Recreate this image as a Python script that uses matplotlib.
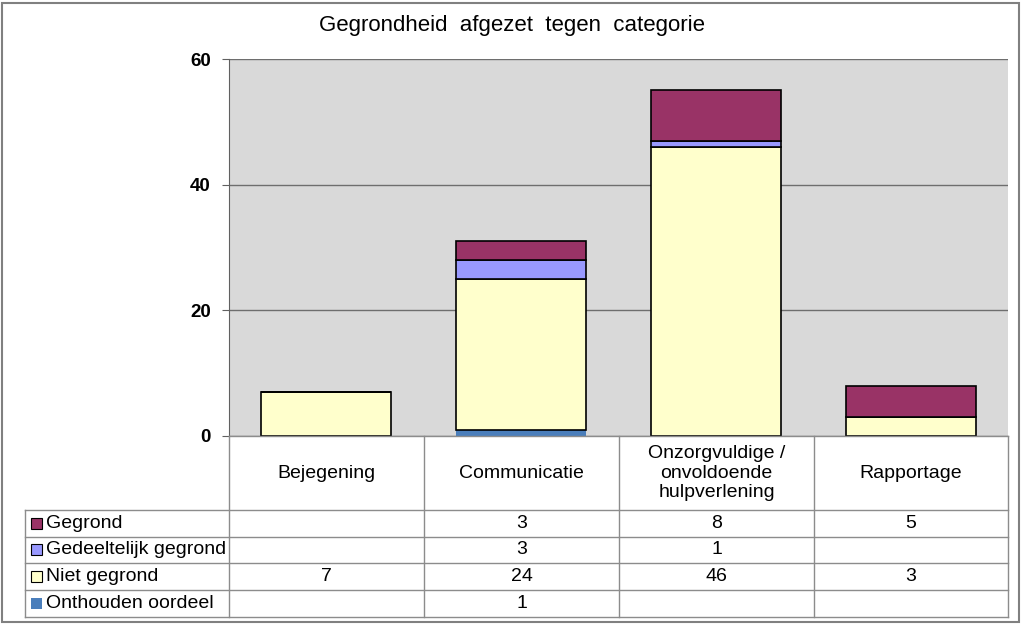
import matplotlib.pyplot as plt
from matplotlib.patches import Rectangle
import numpy as np

plt.rcParams['font.family'] = ['Liberation Sans', 'DejaVu Sans']

#### data
categories = ['Bejegening', 'Communicatie', 'Onzorgvuldige /\nonvoldoende\nhulpverlening', 'Rapportage']
series_names = ['Onthouden oordeel', 'Niet gegrond', 'Gedeeltelijk gegrond', 'Gegrond']
onthouden = [0, 1, 0, 0]
niet_gegrond = [7, 24, 46, 3]
gedeeltelijk = [0, 3, 1, 0]
gegrond = [0, 3, 8, 5]
colors = ['#4a7ebb', '#ffffcc', '#9999ff', '#993366']

W, H = 1024, 625
fig = plt.figure(figsize=(W / 100, H / 100), dpi=100)

# outer frame
fig.patches.append(Rectangle((2 / W, 3 / H), 1017 / W, 619 / H, transform=fig.transFigure,
                             fill=False, edgecolor='#808080', linewidth=1.5))

fig.text(512 / W, 1 - 25 / H, 'Gegrondheid  afgezet  tegen  categorie', ha='center', va='center', fontsize=16)

#### chart
left, right, top, bot = 229, 1008, 59, 436
ax = fig.add_axes([left / W, 1 - bot / H, (right - left) / W, (bot - top) / H])
ax.set_facecolor('#d9d9d9')
x = np.arange(len(categories))
data = [onthouden, niet_gegrond, gedeeltelijk, gegrond]
bottom = np.zeros(len(categories))
for name, vals, c in zip(series_names, data, colors):
    vals = np.array(vals, dtype=float)
    ec = 'none' if name == 'Onthouden oordeel' else 'black'
    ax.bar(x, vals, 0.667, bottom=bottom, color=c, edgecolor=ec, linewidth=1.2, zorder=3)
    bottom += vals
ax.set_xlim(-0.5, len(categories) - 0.5)
ax.set_ylim(0, 60)
ax.set_yticks([0, 20, 40, 60])
ax.set_yticklabels(['0', '20', '40', '60'], fontweight='bold', fontsize=13.5)
ax.yaxis.grid(True, color='#6e6e6e', linewidth=1, zorder=0)
ax.set_axisbelow(True)
ax.set_xticks([])
ax.tick_params(axis='y', length=5, color='#606060', pad=8)
for s in ['top', 'right', 'bottom']:
    ax.spines[s].set_visible(False)
ax.spines['left'].set_color('#606060')

#### data table
tx = fig.add_axes([0, 0, 1, 1])
tx.set_xlim(0, W)
tx.set_ylim(H, 0)
tx.axis('off')
lc = '#8c8c8c'
col_x = [229, 424, 619, 814, 1008]
row_y = [510, 537, 563, 590, 617]
tx.plot([229, 1008], [436, 436], color=lc, lw=1)
for cx in col_x:
    tx.plot([cx, cx], [436, 617], color=lc, lw=1)
tx.plot([25, 25], [510, 617], color=lc, lw=1)
for ry in row_y:
    tx.plot([25, 1008], [ry, ry], color=lc, lw=1)

for i, cat in enumerate(categories):
    tx.text((col_x[i] + col_x[i + 1]) / 2, 473, cat, ha='center', va='center', fontsize=14, linespacing=1.2)

# rows top to bottom: Gegrond, Gedeeltelijk, Niet gegrond, Onthouden
for r, idx in enumerate([3, 2, 1, 0]):
    yc = (row_y[r] + row_y[r + 1]) / 2
    ec = 'none' if idx == 0 else 'black'
    tx.add_patch(Rectangle((31, yc - 6), 11, 11, facecolor=colors[idx], edgecolor=ec, lw=0.8))
    tx.text(46, yc, series_names[idx], ha='left', va='center', fontsize=14)
    for i, v in enumerate(data[idx]):
        if v:
            tx.text((col_x[i] + col_x[i + 1]) / 2, yc, str(v), ha='center', va='center', fontsize=14)

fig.savefig('out.png', dpi=100)
